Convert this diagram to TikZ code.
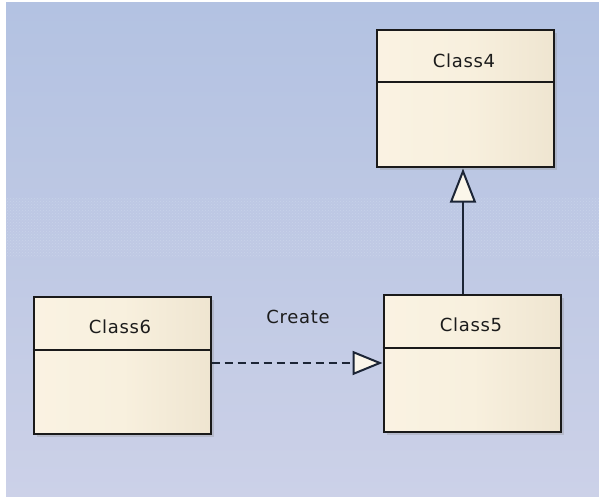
\documentclass[tikz,border=0pt]{standalone}
\usepackage{fontspec}
\newfontfamily\uifont[LetterSpace=4]{DejaVu Sans}
\usetikzlibrary{arrows.meta,shadows,patterns}

\definecolor{bgtop}{HTML}{B3C2E2}
\definecolor{bgmid}{HTML}{BFC9E4}
\definecolor{bgbot}{HTML}{CCD1E8}
\definecolor{boxa}{HTML}{FCF5E6}
\definecolor{boxb}{HTML}{F8F0DE}
\definecolor{boxc}{HTML}{EDE3CE}
\definecolor{boxd}{HTML}{F6EDDB}
\definecolor{boxe}{HTML}{EAE0CA}
\definecolor{boxline}{HTML}{1A1A1A}
\definecolor{lineclr}{HTML}{1C2536}
\definecolor{txt}{HTML}{1C1C1C}
\definecolor{headfill}{HTML}{FBF6EA}

% cream fill of the class boxes, darker towards the right edge
\pgfdeclarehorizontalshading{classfill}{100bp}{%
  color(0bp)=(boxa); color(50bp)=(boxb); color(80bp)=(boxc);
  color(88bp)=(boxd); color(100bp)=(boxe)}

\begin{document}
\begin{tikzpicture}[x=1pt,y=-1pt,
  classbox/.style={draw=boxline, line width=2pt, shade, shading=classfill,
    minimum width=177pt, minimum height=137pt, inner sep=0pt,
    drop shadow={shadow xshift=3pt, shadow yshift=-3pt, fill=black!45, opacity=.3}},
  classname/.style={font=\uifont\fontsize{18}{20}\selectfont, text=txt, inner sep=0pt},
  divider/.style={draw=boxline, line width=2pt},
  gen/.style={draw=lineclr, line width=2pt,
    -{Triangle[length=34pt,width=26pt,fill=headfill]}},
  dep/.style={draw=lineclr, line width=2pt, dash pattern=on 8pt off 5pt,
    -{Triangle[length=30pt,width=24pt,fill=headfill]}}]

% page and diagram background
\fill[white] (0,0) rectangle (599,497);
\shade[top color=bgtop, bottom color=bgbot, middle color=bgmid] (6,3) rectangle (599,497);
\fill[pattern=crosshatch dots, pattern color=white, opacity=.18] (6,197) rectangle (599,257);

% classes
\node[classbox] (c4) at (465.5,99) {};
\node[classbox] (c5) at (472,363) {};
\node[classbox] (c6) at (122,365.5) {};

\draw[divider] ([yshift=-53pt]c4.north west) -- ([yshift=-53pt]c4.north east);
\draw[divider] ([yshift=-54pt]c5.north west) -- ([yshift=-54pt]c5.north east);
\draw[divider] ([yshift=-54pt]c6.north west) -- ([yshift=-54pt]c6.north east);

\node[classname] (c4t) at (464,61) {Class4};
\node[classname] (c5t) at (471,325) {Class5};
\node[classname] (c6t) at (120,327) {Class6};

% generalization Class5 -> Class4
\draw[gen] ([xshift=-9pt]c5.north) -- ([xshift=-9pt]c5.north |- c4.south);

% dependency Class6 -> Class5
\draw[dep] (c6.east |- c5.west) -- (c5.west);
\node[classname] (lbl) at (298,317) {Create};
\end{tikzpicture}
\end{document}
